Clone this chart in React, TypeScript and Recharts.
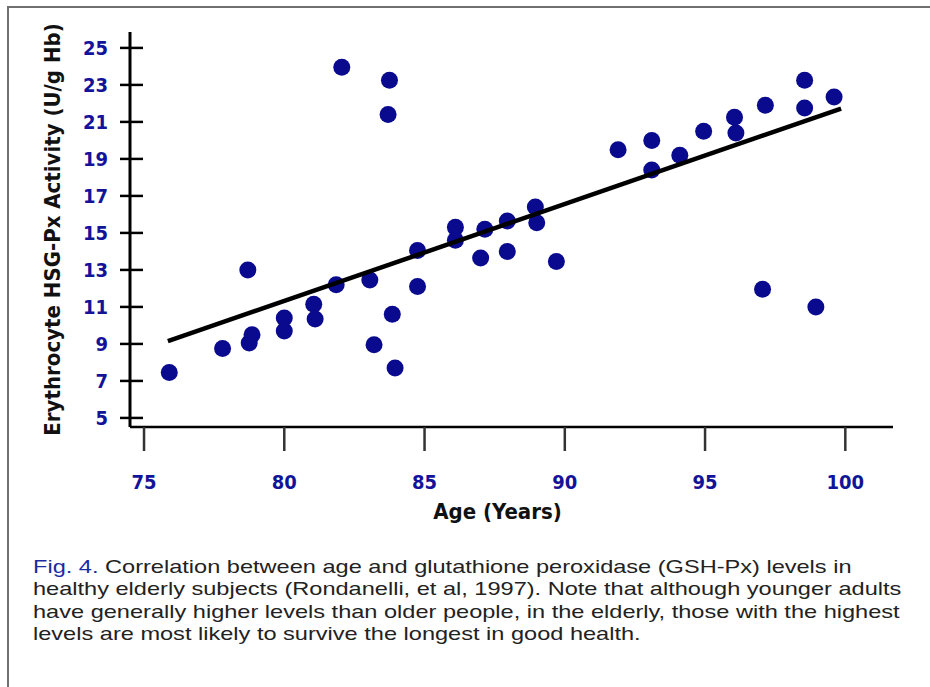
import { ScatterChart, Scatter, XAxis, YAxis } from "recharts";

// ages (years) and erythrocyte GSH-Px activity (U/g Hb)
const ages = [
  75.9, 77.8, 78.75, 78.85, 78.7, 80.0, 80.0, 81.1, 81.05, 81.85, 82.05, 83.05, 83.2, 83.75,
  83.7, 83.85, 83.95, 84.75, 84.75, 86.1, 86.1, 87.15, 87.0, 87.95, 87.95, 88.95, 89.0, 89.7,
  91.9, 93.1, 93.1, 94.1, 94.95, 96.05, 96.1, 97.15, 98.55, 98.55, 99.6, 97.05, 98.95,
];
const activity = [
  7.45, 8.75, 9.05, 9.5, 13.0, 9.7, 10.4, 10.35, 11.15, 12.2, 23.95, 12.45, 8.95, 23.25,
  21.4, 10.6, 7.7, 14.05, 12.1, 15.3, 14.6, 15.2, 13.65, 15.65, 14.0, 16.4, 15.55, 13.45,
  19.5, 20.0, 18.4, 19.2, 20.5, 21.25, 20.4, 21.9, 23.25, 21.75, 22.35, 11.95, 11.0,
];

// fitted regression line, end points
const fitAges = [75.85, 99.85];
const fitActivity = [9.15, 21.72];

const xTicks = [75, 80, 85, 90, 95, 100];
const yTicks = [5, 7, 9, 11, 13, 15, 17, 19, 21, 23, 25];

const points = ages.map((age, i) => ({ age, value: activity[i] }));
const fitLine = fitAges.map((age, i) => ({ age, value: fitActivity[i] }));

const BLUE = "#13139a";
const DOT = "#0a0a8e";
const NARROW = "'Liberation Sans Narrow', 'Arial Narrow', 'DejaVu Sans Condensed', 'Liberation Sans', Arial, sans-serif";

function YTick({ x, y, payload }: any) {
  return (
    <g>
      <line x1={x + 22} x2={x + 35} y1={y} y2={y} stroke="#000" strokeWidth={2.5} />
      <text x={x} y={y} dy={7} textAnchor="end" fill={BLUE} fontFamily={NARROW} fontWeight="bold" fontSize={20}>
        {payload.value}
      </text>
    </g>
  );
}

function XTick({ x, y, payload }: any) {
  return (
    <text x={x} y={y + 26} textAnchor="middle" fill={BLUE} fontFamily={NARROW} fontWeight="bold" fontSize={20}>
      {payload.value}
    </text>
  );
}

const Dot = (props: any) => <circle cx={props.cx} cy={props.cy} r={8.5} fill={DOT} />;
const NoDot = () => <g />;

export default function App() {
  return (
    <div style={{ position: "absolute", left: 0, top: 0, width: 930, height: 687, overflow: "hidden", background: "#fff" }}>
      <div
        style={{
          position: "absolute",
          left: 7,
          top: 6,
          width: 960,
          height: 720,
          borderTop: "2px solid #707070",
          borderLeft: "2px solid #707070",
        }}
      />
      <div style={{ position: "absolute", left: 0, top: 0 }}>
        <ScatterChart width={930} height={540} margin={{ top: 32, right: 37, left: 20, bottom: 53 }}>
          <XAxis
            type="number"
            dataKey="age"
            domain={[74.5, 101.7]}
            allowDataOverflow
            ticks={xTicks}
            tick={<XTick />}
            tickSize={24}
            tickMargin={12}
            tickLine={{ stroke: "#333", strokeWidth: 2.5 }}
            axisLine={{ stroke: "#000", strokeWidth: 2.5 }}
            height={60}
            label={{
              value: "Age (Years)",
              position: "bottom",
              offset: 16,
              dx: -14,
              style: { fontFamily: NARROW, fontWeight: "bold", fontSize: 22, fill: "#111" },
            }}
          />
          <YAxis
            type="number"
            dataKey="value"
            domain={[4.51, 25.86]}
            allowDataOverflow
            ticks={yTicks}
            tick={<YTick />}
            tickSize={10}
            tickMargin={12}
            tickLine={{ stroke: "#000", strokeWidth: 2.5 }}
            axisLine={{ stroke: "#000", strokeWidth: 3 }}
            width={110}
            label={{
              value: "Erythrocyte HSG-Px Activity (U/g Hb)",
              angle: -90,
              position: "insideLeft",
              offset: 32,
              style: { textAnchor: "middle", fontFamily: NARROW, fontWeight: "bold", fontSize: 22, fill: "#111" },
            }}
          />
          <Scatter data={points} shape={Dot} isAnimationActive={false} />
          <Scatter
            data={fitLine}
            shape={NoDot}
            line={{ stroke: "#000", strokeWidth: 4.5 }}
            isAnimationActive={false}
          />
        </ScatterChart>
      </div>
      <div
        style={{
          position: "absolute",
          left: 33,
          top: 556,
          fontFamily: "'Liberation Sans', Arial, sans-serif",
          fontSize: 19,
          lineHeight: "22.3px",
          color: "#222",
          whiteSpace: "nowrap",
          transform: "scaleX(1.24)",
          transformOrigin: "0 0",
        }}
      >
        <span style={{ color: "#1e2aa0" }}>Fig. 4.</span> Correlation between age and glutathione peroxidase (GSH-Px) levels in
        <br />
        healthy elderly subjects (Rondanelli, et al, 1997). Note that although younger adults
        <br />
        have generally higher levels than older people, in the elderly, those with the highest
        <br />
        levels are most likely to survive the longest in good health.
      </div>
    </div>
  );
}
